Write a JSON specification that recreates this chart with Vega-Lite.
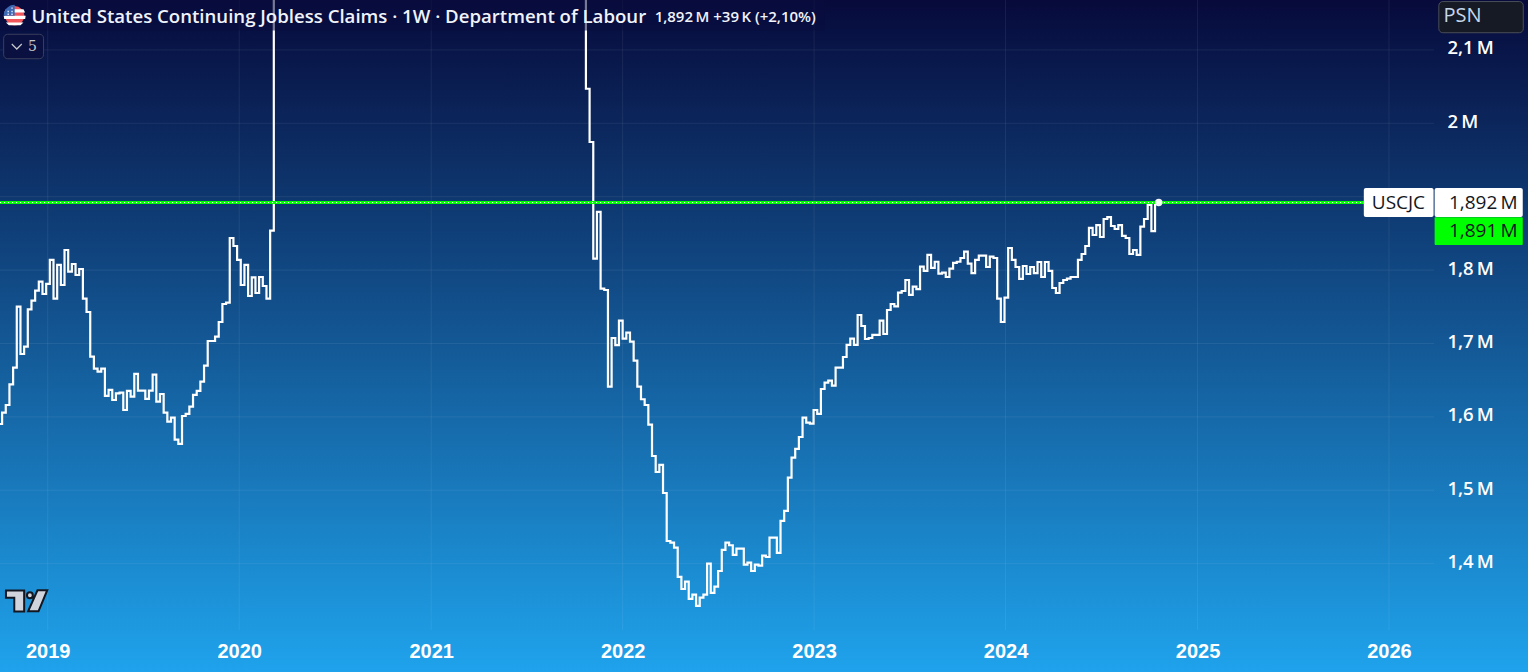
{
  "$schema": "https://vega.github.io/schema/vega-lite/v6.json",
  "width": 1528,
  "height": 672,
  "autosize": "none",
  "padding": 0,
  "background": "#1fa3ec",
  "view": {
    "stroke": null,
    "fill": {
      "gradient": "linear",
      "x1": 0, "y1": 0, "x2": 0, "y2": 1,
      "stops": [
        {"offset": 0, "color": "#070a3b"},
        {"offset": 1, "color": "#1fa3ec"}
      ]
    }
  },
  "datasets": {
    "claims": [
      {"d":"2018-09-29","v":1590.3},{"d":"2018-10-06","v":1605.8},{"d":"2018-10-13","v":1616.2},{"d":"2018-10-20","v":1644.4},{"d":"2018-10-27","v":1667.1},
      {"d":"2018-11-03","v":1750.2},{"d":"2018-11-10","v":1685.7},{"d":"2018-11-17","v":1695.7},{"d":"2018-11-24","v":1746.6},
      {"d":"2018-12-01","v":1758.4},{"d":"2018-12-08","v":1772},{"d":"2018-12-15","v":1784.2},{"d":"2018-12-22","v":1767.4},{"d":"2018-12-29","v":1781.1},
      {"d":"2019-01-05","v":1813.8},{"d":"2019-01-12","v":1761.1},{"d":"2019-01-19","v":1807},{"d":"2019-01-26","v":1779.7},
      {"d":"2019-02-02","v":1827.4},{"d":"2019-02-09","v":1797.9},{"d":"2019-02-16","v":1808.3},{"d":"2019-02-23","v":1793.3},
      {"d":"2019-03-02","v":1801.5},{"d":"2019-03-09","v":1761.1},{"d":"2019-03-16","v":1742.9},{"d":"2019-03-23","v":1682.1},{"d":"2019-03-30","v":1665.7},
      {"d":"2019-04-06","v":1661.6},{"d":"2019-04-13","v":1665.7},{"d":"2019-04-20","v":1628.5},{"d":"2019-04-27","v":1636.7},
      {"d":"2019-05-04","v":1623},{"d":"2019-05-11","v":1632.1},{"d":"2019-05-18","v":1633},{"d":"2019-05-25","v":1609.4},
      {"d":"2019-06-01","v":1635.3},{"d":"2019-06-08","v":1627.6},{"d":"2019-06-15","v":1658.5},{"d":"2019-06-22","v":1635.8},{"d":"2019-06-29","v":1635.8},
      {"d":"2019-07-06","v":1624.4},{"d":"2019-07-13","v":1635.8},{"d":"2019-07-20","v":1657.6},{"d":"2019-07-27","v":1620.8},
      {"d":"2019-08-03","v":1631.2},{"d":"2019-08-10","v":1605.8},{"d":"2019-08-17","v":1593.5},{"d":"2019-08-24","v":1599},{"d":"2019-08-31","v":1569},
      {"d":"2019-09-07","v":1563.1},{"d":"2019-09-14","v":1601.2},{"d":"2019-09-21","v":1604},{"d":"2019-09-28","v":1614},
      {"d":"2019-10-05","v":1629.9},{"d":"2019-10-12","v":1635.3},{"d":"2019-10-19","v":1648},{"d":"2019-10-26","v":1669.8},
      {"d":"2019-11-02","v":1703.4},{"d":"2019-11-09","v":1703.4},{"d":"2019-11-16","v":1709.3},{"d":"2019-11-23","v":1729.3},{"d":"2019-11-30","v":1753.8},
      {"d":"2019-12-07","v":1755.6},{"d":"2019-12-14","v":1843.7},{"d":"2019-12-21","v":1832.8},{"d":"2019-12-28","v":1813.8},
      {"d":"2020-01-04","v":1779.7},{"d":"2020-01-11","v":1807},{"d":"2020-01-18","v":1764.7},{"d":"2020-01-25","v":1790.2},
      {"d":"2020-02-01","v":1768.8},{"d":"2020-02-08","v":1790.6},{"d":"2020-02-15","v":1778.3},{"d":"2020-02-22","v":1761.1},{"d":"2020-02-29","v":1853.7},
      {"d":"2020-03-07","v":3400},
      {"d":"2021-10-23","v":2047.1},{"d":"2021-10-30","v":1974.5},
      {"d":"2021-11-06","v":1815.5},{"d":"2021-11-13","v":1879.2},{"d":"2021-11-20","v":1774.7},{"d":"2021-11-27","v":1772.9},
      {"d":"2021-12-04","v":1641.1},{"d":"2021-12-11","v":1707.5},{"d":"2021-12-18","v":1697.9},{"d":"2021-12-25","v":1731.1},
      {"d":"2022-01-01","v":1706.5},{"d":"2022-01-08","v":1714.7},{"d":"2022-01-15","v":1702.5},{"d":"2022-01-22","v":1676.6},{"d":"2022-01-29","v":1641.1},
      {"d":"2022-02-05","v":1624},{"d":"2022-02-12","v":1616.2},{"d":"2022-02-19","v":1589.4},{"d":"2022-02-26","v":1546.7},
      {"d":"2022-03-05","v":1524.9},{"d":"2022-03-12","v":1534.5},{"d":"2022-03-19","v":1496.3},{"d":"2022-03-26","v":1430.9},
      {"d":"2022-04-02","v":1428.6},{"d":"2022-04-09","v":1421.8},{"d":"2022-04-16","v":1381.9},{"d":"2022-04-23","v":1365.5},{"d":"2022-04-30","v":1375.5},
      {"d":"2022-05-07","v":1351.9},{"d":"2022-05-14","v":1357.8},{"d":"2022-05-21","v":1342.4},{"d":"2022-05-28","v":1353.7},
      {"d":"2022-06-04","v":1357.8},{"d":"2022-06-11","v":1400},{"d":"2022-06-18","v":1360.1},{"d":"2022-06-25","v":1368.7},
      {"d":"2022-07-02","v":1390},{"d":"2022-07-09","v":1418.7},{"d":"2022-07-16","v":1428.6},{"d":"2022-07-23","v":1425.1},{"d":"2022-07-30","v":1411.9},
      {"d":"2022-08-06","v":1420.4},{"d":"2022-08-13","v":1420.4},{"d":"2022-08-20","v":1398.6},{"d":"2022-08-27","v":1401.4},
      {"d":"2022-09-03","v":1390},{"d":"2022-09-10","v":1398.6},{"d":"2022-09-17","v":1397.3},{"d":"2022-09-24","v":1410.9},
      {"d":"2022-10-01","v":1409.1},{"d":"2022-10-08","v":1435.4},{"d":"2022-10-15","v":1435.4},{"d":"2022-10-22","v":1414.6},{"d":"2022-10-29","v":1458.2},
      {"d":"2022-11-05","v":1471.8},{"d":"2022-11-12","v":1517.2},{"d":"2022-11-19","v":1544.4},{"d":"2022-11-26","v":1556.3},
      {"d":"2022-12-03","v":1572.6},{"d":"2022-12-10","v":1598.9},{"d":"2022-12-17","v":1592.1},{"d":"2022-12-24","v":1590.7},{"d":"2022-12-31","v":1609.4},
      {"d":"2023-01-07","v":1604},{"d":"2023-01-14","v":1638},{"d":"2023-01-21","v":1646.6},{"d":"2023-01-28","v":1649.3},
      {"d":"2023-02-04","v":1642.5},{"d":"2023-02-11","v":1667},{"d":"2023-02-18","v":1667},{"d":"2023-02-25","v":1681.6},
      {"d":"2023-03-04","v":1698},{"d":"2023-03-11","v":1706.5},{"d":"2023-03-18","v":1698},{"d":"2023-03-25","v":1738.8},
      {"d":"2023-04-01","v":1723.8},{"d":"2023-04-08","v":1706.1},{"d":"2023-04-15","v":1707.5},{"d":"2023-04-22","v":1711.6},{"d":"2023-04-29","v":1711.6},
      {"d":"2023-05-06","v":1731.1},{"d":"2023-05-13","v":1712.9},{"d":"2023-05-20","v":1745.6},{"d":"2023-05-27","v":1753.8},
      {"d":"2023-06-03","v":1750.7},{"d":"2023-06-10","v":1769.2},{"d":"2023-06-17","v":1771.5},{"d":"2023-06-24","v":1786.5},
      {"d":"2023-07-01","v":1766.1},{"d":"2023-07-08","v":1777.4},{"d":"2023-07-15","v":1774.2},{"d":"2023-07-22","v":1804.6},{"d":"2023-07-29","v":1798.8},
      {"d":"2023-08-05","v":1820.6},{"d":"2023-08-12","v":1802.9},{"d":"2023-08-19","v":1811.4},{"d":"2023-08-26","v":1795.1},
      {"d":"2023-09-02","v":1796.5},{"d":"2023-09-09","v":1790.6},{"d":"2023-09-16","v":1801.9},{"d":"2023-09-23","v":1809.7},{"d":"2023-09-30","v":1811.4},
      {"d":"2023-10-07","v":1816.5},{"d":"2023-10-14","v":1825.1},{"d":"2023-10-21","v":1808.7},{"d":"2023-10-28","v":1796},
      {"d":"2023-11-04","v":1813.8},{"d":"2023-11-11","v":1819.6},{"d":"2023-11-18","v":1819.6},{"d":"2023-11-25","v":1804.2},
      {"d":"2023-12-02","v":1818.3},{"d":"2023-12-09","v":1816.5},{"d":"2023-12-16","v":1761},{"d":"2023-12-23","v":1729.3},{"d":"2023-12-30","v":1762.4},
      {"d":"2024-01-06","v":1830.1},{"d":"2024-01-13","v":1813.8},{"d":"2024-01-20","v":1804.2},{"d":"2024-01-27","v":1787.9},
      {"d":"2024-02-03","v":1805.6},{"d":"2024-02-10","v":1794.7},{"d":"2024-02-17","v":1804.2},{"d":"2024-02-24","v":1796},
      {"d":"2024-03-02","v":1811},{"d":"2024-03-09","v":1790.6},{"d":"2024-03-16","v":1811},{"d":"2024-03-23","v":1798.8},{"d":"2024-03-30","v":1775.6},
      {"d":"2024-04-06","v":1768.8},{"d":"2024-04-13","v":1782.4},{"d":"2024-04-20","v":1786.5},{"d":"2024-04-27","v":1788.3},
      {"d":"2024-05-04","v":1790.6},{"d":"2024-05-11","v":1790.6},{"d":"2024-05-18","v":1813.8},{"d":"2024-05-25","v":1821.9},
      {"d":"2024-06-01","v":1832.8},{"d":"2024-06-08","v":1857.4},{"d":"2024-06-15","v":1847.8},{"d":"2024-06-22","v":1861.4},{"d":"2024-06-29","v":1845.1},
      {"d":"2024-07-06","v":1869.6},{"d":"2024-07-13","v":1872.3},{"d":"2024-07-20","v":1860.1},{"d":"2024-07-27","v":1856},
      {"d":"2024-08-03","v":1861.4},{"d":"2024-08-10","v":1846.5},{"d":"2024-08-17","v":1843.7},{"d":"2024-08-24","v":1821.9},{"d":"2024-08-31","v":1827.4},
      {"d":"2024-09-07","v":1820.6},{"d":"2024-09-14","v":1859.1},{"d":"2024-09-21","v":1869.6},{"d":"2024-09-28","v":1888.7},
      {"d":"2024-10-05","v":1853},{"d":"2024-10-12","v":1892},{"d":"2024-10-19","v":1892}
    ]
  },
  "encoding": {
    "x": {
      "field": "d",
      "type": "temporal",
      "title": null,
      "scale": {"domain": [{"year":2018,"month":10,"date":2},{"year":2026,"month":9,"date":23}], "nice": false},
      "axis": {
        "orient": "bottom",
        "offset": -33,
        "tickCount": "year",
        "format": "%Y",
        "grid": false,
        "domain": false,
        "ticks": false,
        "labelPadding": 2,
        "labelFont": "Liberation Sans",
        "labelFontSize": 20,
        "labelFontWeight": "bold",
        "labelColor": "#ffffff",
        "labelOverlap": false,
        "labelFlush": false
      }
    },
    "y": {
      "field": "v",
      "type": "quantitative",
      "title": null,
      "scale": {"domain": [1252.4, 2168], "nice": false, "zero": false},
      "axis": {
        "orient": "right",
        "offset": -81,
        "values": [1400,1500,1600,1700,1800,1900,2000,2100],
        "labelExpr": "replace(toString(datum.value/1000),'.',',')+'\u2009M'",
        "grid": false,
        "domain": false,
        "ticks": false,
        "labelPadding": 0,
        "labelOffset": -2,
        "labelFont": "Open Sans",
        "labelFontSize": 18.5,
        "labelFontWeight": 600,
        "labelColor": "#ffffff",
        "labelAlign": "left",
        "labelFlush": false
      }
    }
  },
  "layer": [
    {
      "data": {"values": [
        {"d":"2019-01-01","v":2168,"v2":1309.7},{"d":"2020-01-01","v":2168,"v2":1309.7},{"d":"2021-01-01","v":2168,"v2":1309.7},{"d":"2022-01-01","v":2168,"v2":1309.7},
        {"d":"2023-01-01","v":2168,"v2":1309.7},{"d":"2024-01-01","v":2168,"v2":1309.7},{"d":"2025-01-01","v":2168,"v2":1309.7},{"d":"2026-01-01","v":2168,"v2":1309.7}
      ]},
      "mark": {"type": "rule", "color": "#ffffff", "opacity": 0.07, "strokeWidth": 1},
      "encoding": {"y2": {"field": "v2"}}
    },
    {
      "data": {"values": [
        {"d":"2018-10-02","d2":"2026-03-28","v":1400},{"d":"2018-10-02","d2":"2026-03-28","v":1500},{"d":"2018-10-02","d2":"2026-03-28","v":1600},{"d":"2018-10-02","d2":"2026-03-28","v":1700},
        {"d":"2018-10-02","d2":"2026-03-28","v":1800},{"d":"2018-10-02","d2":"2026-03-28","v":1900},{"d":"2018-10-02","d2":"2026-03-28","v":2000},{"d":"2018-10-02","d2":"2026-03-28","v":2100}
      ]},
      "mark": {"type": "rule", "color": "#ffffff", "opacity": 0.07, "strokeWidth": 1},
      "encoding": {"x2": {"field": "d2"}}
    },
    {
      "data": {"name": "claims"},
      "mark": {"type": "line", "color": "#ffffff", "strokeWidth": 2.2, "interpolate": "step-after", "clip": true, "strokeJoin": "miter"}
    },
    {
      "data": {"values": [{"d":"2018-10-02","d2":"2023-01-21","v":2168,"v2":2126.4}]},
      "mark": {"type": "rect", "color": "#090d3e", "opacity": 0.55},
      "encoding": {"x2": {"field": "d2"}, "y2": {"field": "v2"}}
    },
    {
      "data": {"values": [{"d":"2018-10-02","d2":"2026-01-01","v":1892}]},
      "mark": {"type": "rule", "color": "#00ff00", "strokeWidth": 3},
      "encoding": {"x2": {"field": "d2"}}
    },
    {
      "data": {"values": [{"d":"2018-10-02","d2":"2026-01-01","v":1892}]},
      "mark": {"type": "rule", "color": "#ffffff", "strokeWidth": 1, "strokeDash": [1, 3]},
      "encoding": {"x2": {"field": "d2"}}
    },
    {
      "data": {"values": [{"d":"2024-10-19","v":1892}]},
      "mark": {"type": "point", "filled": true, "color": "#ffffff", "opacity": 0.95, "size": 55}
    },
    {
      "data": {"values": [
        {"d":"2025-11-14","d2":"2026-03-27","v":1911.9,"v2":1872.3},
        {"d":"2026-03-29","d2":"2026-09-13","v":1911.9,"v2":1872.3}
      ]},
      "mark": {"type": "rect", "color": "#ffffff", "cornerRadius": 2},
      "encoding": {"x2": {"field": "d2"}, "y2": {"field": "v2"}}
    },
    {
      "data": {"values": [{"d":"2026-03-29","d2":"2026-09-13","v":1872,"v2":1834.2}]},
      "mark": {"type": "rect", "color": "#00ff00", "cornerRadius": 1},
      "encoding": {"x2": {"field": "d2"}, "y2": {"field": "v2"}}
    },
    {
      "data": {"values": [
        {"d":"2026-01-19","v":1892,"label":"USCJC"}
      ]},
      "mark": {"type": "text", "font": "Open Sans", "fontSize": 19, "color": "#131722", "align": "center", "baseline": "middle"},
      "encoding": {"text": {"field": "label"}}
    },
    {
      "data": {"values": [
        {"d":"2026-09-03","v":1892,"label":"1,892\u2009M"},
        {"d":"2026-09-03","v":1853.3,"label":"1,891\u2009M"}
      ]},
      "mark": {"type": "text", "font": "Open Sans", "fontSize": 19, "color": "#131722", "align": "right", "baseline": "middle"},
      "encoding": {"text": {"field": "label"}}
    },
    {
      "data": {"values": [{"d":"2026-04-06","d2":"2026-09-14","v":2165.9,"v2":2123.4}]},
      "mark": {"type": "rect", "color": "#161a25", "stroke": "#4a4e58", "strokeWidth": 1, "cornerRadius": 4},
      "encoding": {"x2": {"field": "d2"}, "y2": {"field": "v2"}}
    },
    {
      "data": {"values": [{"d":"2026-04-15","v":2146.2,"label":"PSN"}]},
      "mark": {"type": "text", "font": "Open Sans", "fontSize": 20, "color": "#c4d6ea", "align": "left", "baseline": "middle"},
      "encoding": {"text": {"field": "label"}}
    },
    {
      "data": {"values": [{"d":"2018-10-09","d2":"2018-12-24","v":2121.3,"v2":2088}]},
      "mark": {"type": "rect", "color": "#0a1040", "stroke": "#3a3f5c", "strokeWidth": 1, "cornerRadius": 4},
      "encoding": {"x2": {"field": "d2"}, "y2": {"field": "v2"}}
    },
    {
      "data": {"values": [{"d":"2018-11-03","v":2104.6}]},
      "mark": {"type": "point", "shape": "M-1,-0.5L0,0.5L1,-0.5", "filled": false, "color": "#c8c9cd", "strokeWidth": 1.2, "size": 100, "opacity": 1}
    },
    {
      "data": {"values": [{"d":"2018-12-03","v":2104.6,"label":"5"}]},
      "mark": {"type": "text", "font": "DejaVu Serif", "fontSize": 14, "color": "#c8c9cd", "align": "center", "baseline": "middle"},
      "encoding": {"text": {"field": "label"}}
    },
    {
      "data": {"values": [{"d":"2018-12-01","v":2144.3,"label":"United States Continuing Jobless Claims \u00b7 1W \u00b7 Department of Labour"}]},
      "mark": {"type": "text", "font": "Open Sans", "fontSize": 18.6, "fontWeight": 600, "color": "#f0f3fa", "align": "left", "baseline": "middle"},
      "encoding": {"text": {"field": "label"}}
    },
    {
      "data": {"values": [{"d":"2022-03-03","v":2145.5,"label":"1,892\u2009M  +39\u2009K (+2,10%)"}]},
      "mark": {"type": "text", "font": "Open Sans", "fontSize": 15, "fontWeight": 600, "color": "#f0f3fa", "align": "left", "baseline": "middle"},
      "encoding": {"text": {"field": "label"}}
    },
    {
      "data": {"values": [{"d":"2018-10-30","v":2146.5}]},
      "mark": {"type": "point", "filled": true, "color": "#f2555a", "shape": "circle", "size": 380, "opacity": 1}
    },
    {
      "data": {"values": [{"d":"2018-10-30","v":2146.5}]},
      "mark": {"type": "point", "filled": true, "color": "#ffffff", "size": 484, "opacity": 1,
        "shape": "M-0.8,-0.6L0.8,-0.6L0.95,-0.3L-0.95,-0.3ZM-1,0L1,0L0.95,0.3L-0.95,0.3ZM-0.8,0.6L0.8,0.6L0.53,0.85L-0.53,0.85Z"}
    },
    {
      "data": {"values": [{"d":"2018-10-30","v":2146.5}]},
      "mark": {"type": "point", "filled": true, "color": "#3c69b5", "size": 484, "opacity": 1,
        "shape": "M0,-1L0,0L-1,0A1,1 0 0 1 0,-1Z"}
    },
    {
      "data": {"values": [{"d":"2018-10-30","v":2146.5}]},
      "mark": {"type": "point", "filled": true, "color": "#ffffff", "size": 484, "opacity": 0.9,
        "shape": "M-0.3,-0.75h0.12v0.12h-0.12ZM-0.65,-0.45h0.12v0.12h-0.12ZM-0.3,-0.45h0.12v0.12h-0.12ZM-0.65,-0.2h0.12v0.12h-0.12ZM-0.3,-0.2h0.12v0.12h-0.12Z"}
    },
    {
      "data": {"values": [{"d":"2018-11-22","v":1349.2}]},
      "mark": {"type": "point", "filled": true, "fill": "#d1d4dc", "stroke": "#131722", "strokeWidth": 2, "size": 2000, "opacity": 1,
        "shape": "M-0.93,-0.47L-0.116,-0.47L-0.116,0.47L-0.558,0.47L-0.558,-0.14L-0.93,-0.14ZM0.01,-0.256A0.13,0.13 0 1 1 0.27,-0.256A0.13,0.13 0 1 1 0.01,-0.256ZM0.479,-0.479L0.916,-0.479L0.526,0.465L0.06,0.465Z"}
    }
  ]
}
